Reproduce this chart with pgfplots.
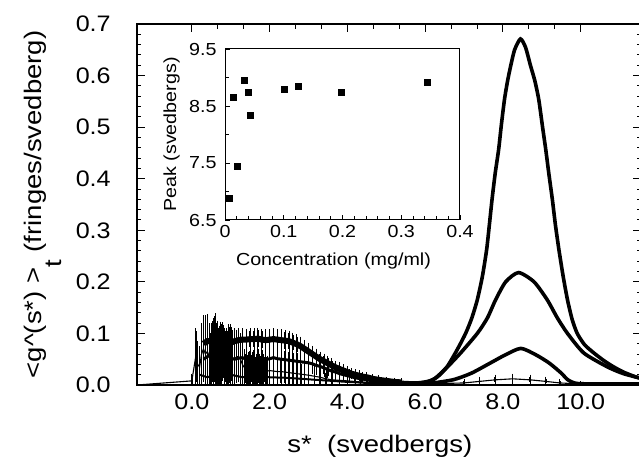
\documentclass[border=0pt]{standalone}
\usepackage{pgfplots}
\pgfplotsset{compat=1.18}
\usepackage{fontspec}
\setmainfont{Liberation Sans}
\newcommand{\tkf}{\fontsize{22.5}{27}\selectfont}
\newcommand{\bigf}{\fontsize{24}{28}\selectfont}
\newcommand{\smf}{\fontsize{17.5}{21}\selectfont}
\begin{document}
\begin{tikzpicture}
\useasboundingbox (-137bp,-79bp) rectangle (502bp,385bp);
\begin{axis}[
  at={(0,0)}, anchor=south west,
  scale only axis, width=504bp, height=361bp,
  xmin=-1.41, xmax=11.55, ymin=0, ymax=0.7,
  axis line style={line width=1.2bp},
  xtick={0,2,4,6,8,10}, xticklabels={0.0,2.0,4.0,6.0,8.0,10.0},
  minor x tick num=2,
  ytick={0,0.1,0.2,0.3,0.4,0.5,0.6,0.7},
  yticklabels={0.0,0.1,0.2,0.3,0.4,0.5,0.6,0.7},
  minor y tick num=4,
  xtick pos=right, xticklabel pos=left,
  ytick pos=both, yticklabel pos=left,
  tick align=inside,
  major tick length=8bp, minor tick length=4.5bp,
  every tick/.style={black, line width=1bp},
  ticklabel style={font=\tkf, xscale=1.12},
  xticklabel style={yshift=-5bp},
  yticklabel style={xshift=-20bp},
  xlabel={s*\ \ (svedbergs)},
  every axis x label/.style={at={(axis description cs:0.482,-0.1856)}, anchor=base, font=\bigf, xscale=1.15},
  ylabel={<g\textasciicircum(s*) >\raisebox{-0.8em}{t} (fringes/svedberg)},
  every axis y label/.style={at={(axis description cs:-0.1885,0.5)}, anchor=base, rotate=90, xscale=1.15, font=\bigf},
]
% --- series D: noisy low-s data with large error bars, and the smallest peak
\addplot[black, line width=1.1bp, error bars/.cd, y dir=both, y explicit,
  error bar style={line width=1.6bp}, error mark options={mark size=2.6bp, line width=1bp}]
coordinates {
(-1.41,0) (0.0,0.008) +- (0,0.008)
(0.10,0.055) +- (0,0.05)
(0.15,0.04) +- (0,0.04)
(0.20,0.035) +- (0,0.035)
(0.25,0.06) +- (0,0.055)
(0.30,0.07) +- (0,0.06)
(0.35,0.06) +- (0,0.07)
(0.40,0.065) +- (0,0.068)
(0.45,0.055) +- (0,0.06)
(0.50,0.05) +- (0,0.05)
(0.55,0.065) +- (0,0.06)
(0.60,0.07) +- (0,0.064)
(0.65,0.06) +- (0,0.06)
(0.70,0.055) +- (0,0.055)
(0.75,0.06) +- (0,0.058)
(0.80,0.065) +- (0,0.052)
(0.85,0.055) +- (0,0.05)
(0.90,0.05) +- (0,0.05)
(0.95,0.058) +- (0,0.055)
(1.00,0.06) +- (0,0.053)
(1.05,0.052) +- (0,0.05)
(1.10,0.05) +- (0,0.05)
(1.15,0.055) +- (0,0.047)
(1.20,0.055) +- (0,0.045)
(1.25,0.05) +- (0,0.045)
(1.30,0.04) +- (0,0.04)
(1.35,0.034) +- (0,0.03)
(1.40,0.032) +- (0,0.028)
(1.45,0.03) +- (0,0.029)
(1.50,0.03) +- (0,0.028)
(1.55,0.032) +- (0,0.027)
(1.60,0.03) +- (0,0.028)
(1.65,0.028) +- (0,0.027)
(1.70,0.03) +- (0,0.026)
(1.75,0.029) +- (0,0.027)
(1.80,0.027) +- (0,0.026)
(1.85,0.03) +- (0,0.025)
(1.90,0.028) +- (0,0.026)
(1.95,0.027) +- (0,0.025)
(2.00,0.028) +- (0,0.025)
(2.10,0.027) +- (0,0.024)
(2.20,0.026) +- (0,0.024)
(2.30,0.026) +- (0,0.023)
(2.40,0.025) +- (0,0.022)
(2.50,0.024) +- (0,0.022)
(2.60,0.023) +- (0,0.021)
(2.70,0.022) +- (0,0.02)
(2.80,0.021) +- (0,0.019)
(2.90,0.02) +- (0,0.018)
(3.00,0.019) +- (0,0.017)
(3.15,0.017) +- (0,0.016)
(3.30,0.015) +- (0,0.015)
(3.45,0.012) +- (0,0.012)
(3.60,0.01) +- (0,0.01)
(3.80,0.009) +- (0,0.009)
(4.00,0.008) +- (0,0.008)
(4.50,0.005) +- (0,0.005)
(5.0,0.003) +- (0,0)
(6.0,0.002) +- (0,0)
(7.0,0.004) +- (0,0.003)
(7.4,0.007) +- (0,0.004)
(7.8,0.01) +- (0,0.005)
(8.25,0.012) +- (0,0.005)
(8.7,0.01) +- (0,0.005)
(9.1,0.007) +- (0,0.004)
(9.46,0.004) +- (0,0.003)
(10.0,0.002) +- (0,0)
(11.55,0.001) +- (0,0)
};
% --- series B low-s band
\addplot[black, line width=6bp, error bars/.cd, y dir=both, y explicit,
  error bar style={line width=1.4bp}, error mark options={mark size=2.4bp, line width=1bp}]
coordinates {
(0.3,0.08) +- (0,0.03)
(0.4,0.085) +- (0,0.03)
(0.5,0.085) +- (0,0.03)
(0.6,0.08) +- (0,0.03)
(0.7,0.075) +- (0,0.03)
(0.8,0.078) +- (0,0.028)
(0.9,0.08) +- (0,0.025)
(1.0,0.082) +- (0,0.022)
(1.1,0.085) +- (0,0.02)
(1.2,0.087) +- (0,0.018)
(1.3,0.088) +- (0,0.017)
(1.4,0.088) +- (0,0.016)
(1.5,0.089) +- (0,0.016)
(1.6,0.089) +- (0,0.016)
(1.7,0.09) +- (0,0.016)
(1.8,0.088) +- (0,0.016)
(1.9,0.087) +- (0,0.016)
(2.0,0.088) +- (0,0.016)
(2.1,0.089) +- (0,0.016)
(2.2,0.088) +- (0,0.016)
(2.3,0.087) +- (0,0.016)
(2.4,0.086) +- (0,0.016)
(2.5,0.085) +- (0,0.016)
(2.6,0.082) +- (0,0.015)
(2.7,0.079) +- (0,0.015)
(2.8,0.075) +- (0,0.014)
(2.9,0.07) +- (0,0.013)
(3.0,0.065) +- (0,0.012)
(3.1,0.06) +- (0,0.011)
(3.2,0.055) +- (0,0.011)
(3.3,0.05) +- (0,0.01)
(3.4,0.046) +- (0,0.01)
(3.5,0.042) +- (0,0.01)
(3.6,0.038) +- (0,0.009)
(3.7,0.034) +- (0,0.008)
(3.8,0.031) +- (0,0.008)
(3.9,0.028) +- (0,0.008)
(4.0,0.025) +- (0,0.007)
(4.1,0.022) +- (0,0.006)
(4.2,0.02) +- (0,0.006)
(4.3,0.018) +- (0,0.006)
(4.4,0.016) +- (0,0.005)
(4.5,0.015) +- (0,0.005)
(4.65,0.012) +- (0,0.004)
(4.8,0.01) +- (0,0.004)
(5.0,0.008) +- (0,0.003)
(5.2,0.006) +- (0,0.003)
(5.4,0.005) +- (0,0.003)
};
% --- series C low-s band
\addplot[black, line width=3bp, error bars/.cd, y dir=both, y explicit,
  error bar style={line width=1.4bp}, error mark options={mark size=2.4bp, line width=1bp}]
coordinates {
(0.3,0.05) +- (0,0.03)
(0.4,0.055) +- (0,0.03)
(0.5,0.06) +- (0,0.03)
(0.6,0.055) +- (0,0.03)
(0.7,0.05) +- (0,0.03)
(0.8,0.052) +- (0,0.027)
(0.9,0.055) +- (0,0.025)
(1.0,0.052) +- (0,0.022)
(1.1,0.05) +- (0,0.02)
(1.2,0.052) +- (0,0.019)
(1.3,0.053) +- (0,0.018)
(1.4,0.05) +- (0,0.018)
(1.5,0.048) +- (0,0.018)
(1.6,0.05) +- (0,0.018)
(1.7,0.052) +- (0,0.018)
(1.8,0.05) +- (0,0.018)
(1.9,0.049) +- (0,0.018)
(2.0,0.051) +- (0,0.018)
(2.1,0.053) +- (0,0.018)
(2.2,0.051) +- (0,0.018)
(2.3,0.05) +- (0,0.018)
(2.4,0.049) +- (0,0.017)
(2.5,0.048) +- (0,0.016)
(2.6,0.047) +- (0,0.016)
(2.7,0.046) +- (0,0.016)
(2.8,0.045) +- (0,0.015)
(2.9,0.044) +- (0,0.015)
(3.0,0.043) +- (0,0.015)
(3.1,0.041) +- (0,0.015)
(3.2,0.038) +- (0,0.013)
(3.3,0.036) +- (0,0.012)
(3.4,0.033) +- (0,0.012)
(3.5,0.03) +- (0,0.012)
(3.6,0.027) +- (0,0.011)
(3.7,0.025) +- (0,0.01)
(3.8,0.022) +- (0,0.01)
(3.9,0.02) +- (0,0.01)
(4.05,0.017) +- (0,0.009)
(4.2,0.014) +- (0,0.008)
(4.35,0.012) +- (0,0.007)
(4.5,0.01) +- (0,0.006)
(4.65,0.008) +- (0,0.005)
(4.8,0.006) +- (0,0.005)
(5.0,0.005) +- (0,0.004)
(5.2,0.004) +- (0,0.004)
};
% --- series A low-s
\addplot[black, line width=2bp] coordinates {
(0.2,0.02) (0.4,0.015) (0.6,0.02) (0.8,0.018) (1.0,0.02) (1.3,0.015)
(1.6,0.018) (2.0,0.015) (2.4,0.014) (2.8,0.012) (3.2,0.01) (3.6,0.008)
(4.0,0.006) (4.5,0.004) (5.0,0.003)
};
% --- peaks
\addplot[black, line width=3.6bp, smooth, tension=0.4] coordinates {
(5.0,0.003) (5.5,0.003) (6.0,0.005) (6.3,0.015) (6.56,0.035) (6.82,0.068)
(7.04,0.10) (7.2,0.13) (7.34,0.165) (7.47,0.21) (7.58,0.262) (7.65,0.31)
(7.72,0.36) (7.80,0.41) (7.89,0.457) (7.96,0.505) (8.04,0.554) (8.12,0.59)
(8.20,0.619) (8.30,0.65) (8.45,0.671) (8.58,0.655) (8.71,0.619) (8.82,0.59)
(8.92,0.554) (9.01,0.505) (9.10,0.457) (9.18,0.41) (9.27,0.36) (9.35,0.31)
(9.44,0.262) (9.55,0.21) (9.66,0.165) (9.78,0.127) (9.91,0.10) (10.1,0.078)
(10.34,0.062) (10.6,0.047) (10.85,0.035) (11.1,0.025) (11.4,0.016) (11.55,0.013)
};
\addplot[black, line width=3.6bp, smooth, tension=0.4] coordinates {
(5.4,0.005) (5.8,0.004) (6.2,0.01) (6.57,0.035) (6.91,0.062) (7.34,0.10)
(7.6,0.13) (7.81,0.165) (8.07,0.20) (8.4,0.218) (8.8,0.20) (9.14,0.165)
(9.4,0.13) (9.66,0.10) (10.08,0.062) (10.69,0.035) (11.1,0.022) (11.55,0.013)
};
\addplot[black, line width=3.6bp, smooth, tension=0.4] coordinates {
(5.2,0.004) (5.6,0.003) (6.0,0.002) (6.71,0.01) (7.19,0.023) (7.66,0.042)
(8.05,0.058) (8.46,0.071) (8.86,0.058) (9.2,0.042) (9.5,0.023) (9.67,0.01)
(9.9,0.003) (10.5,0.002) (11.55,0.002)
};
\end{axis}
\begin{axis}[
  at={(88bp,165bp)}, anchor=south west,
  scale only axis, width=235bp, height=171bp,
  xmin=0, xmax=0.4, ymin=6.5, ymax=9.5,
  axis background/.style={fill=white},
  axis line style={line width=1bp},
  xtick={0,0.1,0.2,0.3,0.4}, xticklabels={0,0.1,0.2,0.3,0.4},
  minor x tick num=4,
  ytick={6.5,7.5,8.5,9.5}, yticklabels={6.5,7.5,8.5,9.5},
  minor ytick={7,8,9},
  xtick pos=left, ytick pos=left,
  tick align=inside,
  major tick length=5bp, minor tick length=3.5bp,
  every tick/.style={black, line width=0.9bp},
  ticklabel style={font=\smf, xscale=1.13},
  xticklabel style={yshift=-2bp},
  yticklabel style={xshift=-4bp},
  xlabel={Concentration (mg/ml)},
  every axis x label/.style={at={(axis description cs:0.4617,-0.269)}, anchor=base, font=\smf, xscale=1.13},
  ylabel={Peak (svedbergs)},
  every axis y label/.style={at={(axis description cs:-0.2085,0.5)}, anchor=base, rotate=90, xscale=1.13, font=\smf},
]
\addplot[only marks, mark=square*, mark size=3bp, black] coordinates {
(0.0073,6.89) (0.0136,8.65) (0.0216,7.45) (0.032,8.95) (0.040,8.75)
(0.0426,8.33) (0.1004,8.80) (0.125,8.84) (0.197,8.75) (0.345,8.92)
};
\end{axis}
\end{tikzpicture}
\end{document}
